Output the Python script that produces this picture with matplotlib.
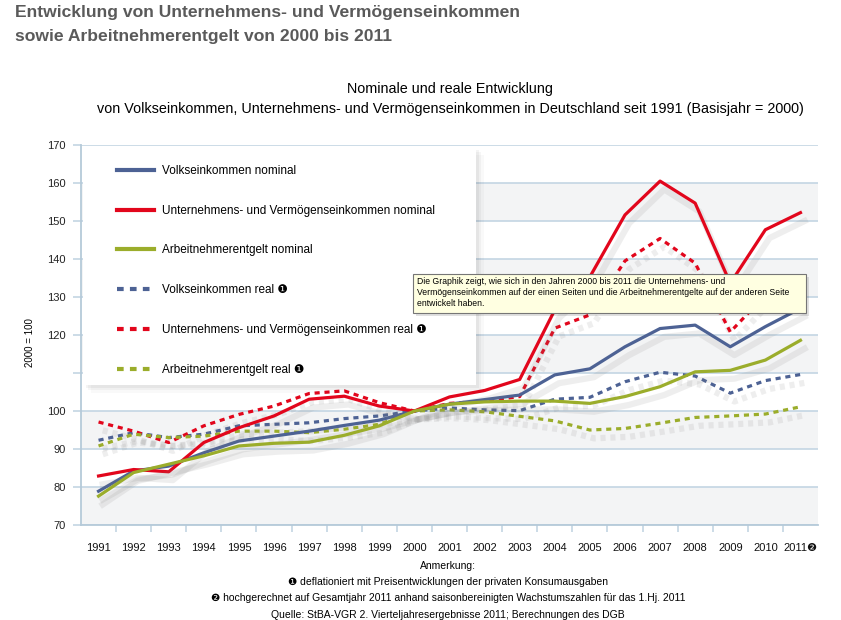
import matplotlib
matplotlib.use('Agg')
import matplotlib.pyplot as plt
import matplotlib.patheffects as pe
from matplotlib.patches import Rectangle
from matplotlib.lines import Line2D

plt.rcParams['font.family'] = ['Liberation Sans', 'DejaVu Sans']
NARROW = ['Liberation Sans Narrow', 'Liberation Sans', 'DejaVu Sans']

# Daten (2000 = 100)
years = [str(y) for y in range(1991, 2011)] + ['2011❷']
vk_nom = [78.9, 84.2, 85.5, 89.0, 92.1, 93.4, 94.7, 96.2, 97.6, 100.0, 101.8,
          103.0, 104.2, 109.5, 111.1, 116.9, 121.7, 122.6, 116.9, 122.2, 127.0]
ue_nom = [82.9, 84.6, 84.0, 91.7, 95.6, 98.7, 103.1, 103.9, 101.3, 100.0, 103.7,
          105.4, 108.3, 126.6, 135.3, 151.6, 160.5, 154.7, 133.6, 147.7, 152.2]
ae_nom = [77.6, 83.8, 86.0, 88.2, 90.8, 91.5, 91.8, 93.6, 96.1, 100.0, 101.8,
          102.4, 102.6, 102.6, 102.0, 103.8, 106.4, 110.3, 110.7, 113.4, 118.6]
vk_real = [92.3, 94.3, 93.0, 93.9, 96.1, 96.5, 96.9, 98.0, 98.7, 100.0, 100.8,
           100.3, 100.1, 103.1, 103.6, 107.7, 110.2, 109.2, 104.7, 108.0, 109.6]
ue_real = [97.1, 94.7, 91.7, 96.1, 99.1, 101.3, 104.6, 105.3, 102.2, 100.0, 102.0,
           102.6, 103.8, 121.8, 125.3, 139.5, 145.4, 138.9, 120.8, 130.5, 131.5]
ae_real = [90.8, 93.9, 93.0, 93.4, 94.7, 94.7, 94.3, 95.2, 96.5, 100.0, 100.3,
           99.8, 98.6, 97.4, 95.0, 95.4, 96.8, 98.3, 98.7, 99.2, 101.1]

labels = ['Volkseinkommen nominal',
          'Unternehmens- und Vermögenseinkommen nominal',
          'Arbeitnehmerentgelt nominal',
          'Volkseinkommen real ❶',
          'Unternehmens- und Vermögenseinkommen real ❶',
          'Arbeitnehmerentgelt real ❶']

blue = '#4d6294'
red = '#e2061c'
green = '#9bad2b'
grid_c = '#c3d5e3'
W, H = 841, 620

fig = plt.figure(figsize=(W / 100, H / 100), dpi=100)
fig.patch.set_facecolor('white')
ax = fig.add_axes([81 / W, 1 - 525 / H, (818 - 81) / W, (525 - 145) / H])

x = list(range(len(years)))
ax.set_xlim(-0.5, len(years) - 0.5)
ax.set_ylim(70, 170)

# Hintergrundbänder
for lo in range(70, 170, 20):
    ax.axhspan(lo, lo + 10, color='#f3f4f5', zorder=0, lw=0)
for v in range(70, 171, 10):
    ax.axhline(v, color=grid_c, lw=1.2, zorder=1)

shadow = [pe.SimpleLineShadow(offset=(3, -6), shadow_color='#808080', alpha=0.13, linewidth=4.5), pe.Normal()]
dash = (1.6, 1.5)
series = [
    (vk_nom, blue, '-'), (ue_nom, red, '-'), (ae_nom, green, '-'),
    (vk_real, blue, '--'), (ue_real, red, '--'), (ae_real, green, '--'),
]
handles = []
for (vals, col, ls), lab in zip(series, labels):
    if ls == '-':
        ln, = ax.plot(x, vals, color=col, lw=2.3, label=lab, zorder=4, path_effects=shadow)
    else:
        ln, = ax.plot(x, vals, color=col, lw=2.3, label=lab, zorder=3,
                      dashes=dash, path_effects=shadow)
    handles.append(Line2D([], [], color=col, lw=3.0, dashes=dash if ls == '--' else (None, None)))

for s in ['top', 'right']:
    ax.spines[s].set_visible(False)
for s in ['left', 'bottom']:
    ax.spines[s].set_color('#b5cad9')
    ax.spines[s].set_linewidth(1.3)

ax.set_yticks(range(70, 171, 10))
ax.set_yticklabels([str(v) if v != 110 else '' for v in range(70, 171, 10)], fontsize=8, color='#222222')
ax.tick_params(axis='y', length=6, width=1.2, color=grid_c, pad=5)
ax.set_xticks(x)
ax.set_xticklabels(years, fontsize=8.0, family=NARROW, color='#111111')
ax.set_xticks([i + 0.5 for i in x[:-1]], minor=True)
ax.tick_params(axis='x', which='major', length=0, pad=13)
ax.tick_params(axis='x', which='minor', length=5, width=1.2, color=grid_c)
ax.set_ylabel('2000 = 100', fontsize=7, family=NARROW, labelpad=22)
ax.yaxis.set_label_coords(-0.062, 0.48)

# Legendenkasten mit Schatten
for k, a in [(8, 0.025), (5, 0.035), (3, 0.045)]:
    fig.patches.append(Rectangle(((83 + k) / W, 1 - (385 + k) / H), 393 / W, 238 / H,
                                 transform=fig.transFigure, facecolor='black', alpha=a,
                                 lw=0, zorder=5))
fig.patches.append(Rectangle((83 / W, 1 - 385 / H), 393 / W, 238 / H,
                             transform=fig.transFigure, facecolor='white', lw=0, zorder=6))
leg = fig.legend(handles, labels, loc='upper left', bbox_to_anchor=(117 / W, 1 - 165 / H),
                 frameon=False, fontsize=8.5, handlelength=3.1, handletextpad=0.7,
                 labelspacing=2.35, borderpad=0, borderaxespad=0)
leg.set_zorder(7)

# Tooltip
fig.patches.append(Rectangle((416 / W, 1 - 316 / H), 393 / W, 39 / H, transform=fig.transFigure,
                             facecolor='black', alpha=0.12, lw=0, zorder=8))
fig.patches.append(Rectangle((413 / W, 1 - 313 / H), 393 / W, 39 / H, transform=fig.transFigure,
                             facecolor='#ffffe1', edgecolor='#767676', lw=0.8, zorder=9))
fig.text(417 / W, 1 - 277 / H,
         'Die Graphik zeigt, wie sich in den Jahren 2000 bis 2011 die Unternehmens- und\n'
         'Vermögenseinkommen auf der einen Seiten und die Arbeitnehmerentgelte auf der anderen Seite\n'
         'entwickelt haben.', fontsize=6.2, va='top', ha='left', linespacing=1.25, zorder=10)

# Titel
fig.text(15 / W, 1 - 13 / H, 'Entwicklung von Unternehmens- und Vermögenseinkommen',
         fontsize=12.6, weight='bold', color='#5a5a5a', va='center')
fig.text(15 / W, 1 - 37 / H, 'sowie Arbeitnehmerentgelt von 2000 bis 2011',
         fontsize=12.6, weight='bold', color='#5a5a5a', va='center')
fig.text(450 / W, 1 - 89 / H, 'Nominale und reale Entwicklung', fontsize=10.4, ha='center', va='center')
fig.text(450 / W, 1 - 109 / H,
         'von Volkseinkommen, Unternehmens- und Vermögenseinkommen in Deutschland seit 1991 (Basisjahr = 2000)',
         fontsize=10.4, ha='center', va='center')

# Anmerkungen
notes = ['Anmerkung:',
         '❶ deflationiert mit Preisentwicklungen der privaten Konsumausgaben',
         '❷ hochgerechnet auf Gesamtjahr 2011 anhand saisonbereinigten Wachstumszahlen für das 1.Hj. 2011',
         'Quelle: StBA-VGR 2. Vierteljahresergebnisse 2011; Berechnungen des DGB']
for i, t in enumerate(notes):
    fig.text(448 / W, 1 - (566 + 16.2 * i) / H, t, fontsize=7.5, family=NARROW,
             ha='center', va='center')

fig.savefig('out.png', dpi=100)
